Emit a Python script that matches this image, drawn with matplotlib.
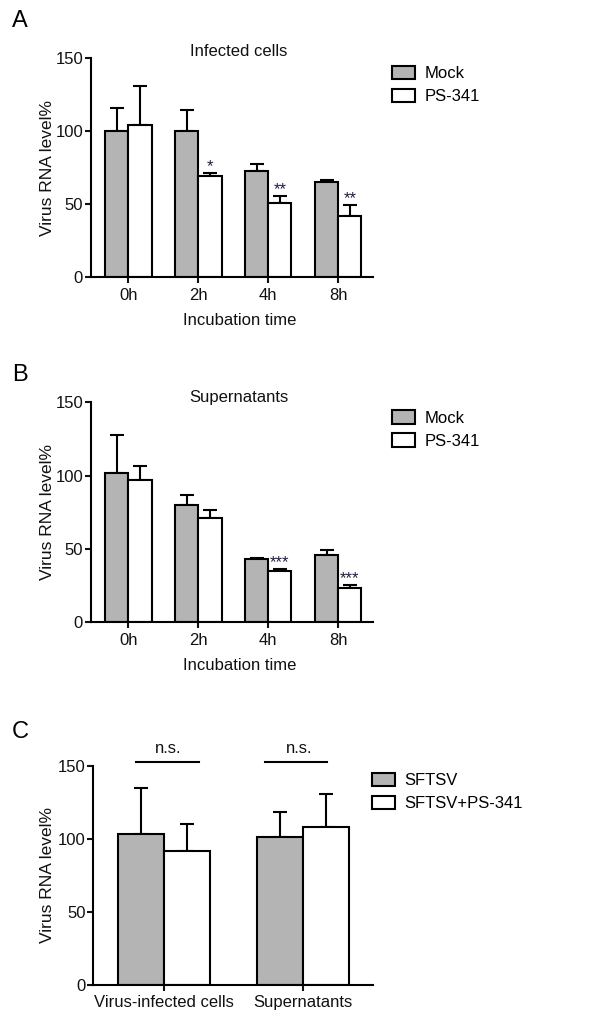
import numpy as np
import matplotlib
matplotlib.use("Agg")
import matplotlib.pyplot as plt

plt.rcParams['font.family'] = ['Liberation Sans', 'DejaVu Sans']

# panel A - infected cells
times = ["0h", "2h", "4h", "8h"]
a_mock = [100.5, 100.5, 73, 65.2]
a_mock_err = [15.3, 14, 4.6, 1.2]
a_ps = [104, 69.2, 51, 42]
a_ps_err = [27, 2.3, 4.7, 7.8]
a_stars = ["", "*", "**", "**"]

# panel B - supernatants
b_mock = [102, 80, 43, 46.1]
b_mock_err = [25.7, 6.8, 0.9, 2.9]
b_ps = [97.3, 71.4, 35, 23.2]
b_ps_err = [9.3, 5.4, 1.4, 2.3]
b_stars = ["", "", "***", "***"]

# panel C
c_groups = ["Virus-infected cells", "Supernatants"]
c_sftsv = [103.2, 101.1]
c_sftsv_err = [31.5, 17.6]
c_ps = [91.8, 108.2]
c_ps_err = [18.2, 22.4]

GRAY = "#b4b4b4"
LW = 1.5
W = 0.33
FS = 12

fig = plt.figure(figsize=(6.15, 10.24), dpi=100)


def style_axis(ax):
    for s in ["top", "right"]:
        ax.spines[s].set_visible(False)
    for s in ["left", "bottom"]:
        ax.spines[s].set_linewidth(LW)
    ax.tick_params(width=LW, length=4, labelsize=FS, colors="#111111")
    ax.tick_params(axis="y", pad=1.5)
    ax.tick_params(axis="x", pad=3.5)
    ax.set_ylim(0, 150)
    ax.set_yticks([0, 50, 100, 150])


def draw_pair(ax, x, v1, e1, l1, v2, e2, l2):
    z = [0] * len(v1)
    b1 = ax.bar(x - W / 2, v1, W, color=GRAY, edgecolor="black", linewidth=LW, label=l1, zorder=2)
    b2 = ax.bar(x + W / 2, v2, W, color="white", edgecolor="black", linewidth=LW, label=l2, zorder=2)
    ax.errorbar(x - W / 2, v1, yerr=[z, e1], fmt="none", ecolor="black", elinewidth=LW,
                capsize=4.7, capthick=LW, zorder=1)
    ax.errorbar(x + W / 2, v2, yerr=[z, e2], fmt="none", ecolor="black", elinewidth=LW,
                capsize=4.7, capthick=LW, zorder=1)
    return b1, b2


def time_panel(rect, mock, mock_err, ps, ps_err, stars, title, letter, letter_y, title_y, leg_y):
    ax = fig.add_axes(rect)
    x = np.arange(len(times))
    draw_pair(ax, x, mock, mock_err, "Mock", ps, ps_err, "PS-341")
    for i, s in enumerate(stars):
        if s:
            ax.text(x[i] + W / 2, ps[i] + ps_err[i] + 1.0, s, ha="center", va="baseline",
                    fontsize=12, color="#1c1c44")
    ax.set_xlim(-0.54, 3.5)
    ax.set_xticks(x)
    ax.set_xticklabels(times)
    style_axis(ax)
    ax.set_ylabel("Virus RNA level%", fontsize=12.5, color="#111111", va="center")
    ax.yaxis.set_label_coords(-0.152, 0.5)
    ax.set_xlabel("Incubation time", fontsize=FS, color="#111111", va="center")
    ax.xaxis.set_label_coords(0.528, -0.197)
    fig.text(239 / 615, title_y, title, ha="center", va="center", fontsize=FS, color="#111111")
    fig.text(12 / 615, letter_y, letter, ha="left", va="center", fontsize=17)
    ax.legend(loc="center left", bbox_to_anchor=(392 / 615, leg_y), bbox_transform=fig.transFigure,
              frameon=False, fontsize=FS, handlelength=1.4, handleheight=0.85,
              handletextpad=0.55, labelspacing=0.45, borderpad=0, borderaxespad=0)
    return ax


time_panel([90.7 / 615, 0.7292, 0.4595, 0.2139], a_mock, a_mock_err, a_ps, a_ps_err, a_stars,
           "Infected cells", "A", 1 - 21 / 1024, 1 - 51.7 / 1024, 1 - 85 / 1024)
time_panel([90.7 / 615, 0.3923, 0.4595, 0.2148], b_mock, b_mock_err, b_ps, b_ps_err, b_stars,
           "Supernatants", "B", 1 - 375 / 1024, 1 - 397.3 / 1024, 1 - 429.5 / 1024)

# panel C
axc = fig.add_axes([93.3 / 615, 0.0381, 0.4553, 0.2139])
xc = np.arange(len(c_groups))
draw_pair(axc, xc, c_sftsv, c_sftsv_err, "SFTSV", c_ps, c_ps_err, "SFTSV+PS-341")
axc.set_xlim(-0.505, 1.505)
axc.set_xticks(xc)
axc.set_xticklabels(c_groups)
style_axis(axc)
axc.set_ylabel("Virus RNA level%", fontsize=12.5, color="#111111", va="center")
axc.yaxis.set_label_coords(-0.162, 0.5)
ns_lines = [(-0.197, 0.254), (-0.273, 0.175)]
ns_text_x = [0.03, -0.03]
for i in range(len(c_groups)):
    axc.plot([xc[i] + ns_lines[i][0], xc[i] + ns_lines[i][1]], [153, 153], color="black",
             lw=LW, clip_on=False)
    axc.text(xc[i] + ns_text_x[i], 157, "n.s.", ha="center", va="bottom", fontsize=FS,
             color="#111111", clip_on=False)
fig.text(12 / 615, 1 - 732 / 1024, "C", ha="left", va="center", fontsize=17)
axc.legend(loc="center left", bbox_to_anchor=(372 / 615, 1 - 792 / 1024), bbox_transform=fig.transFigure,
           frameon=False, fontsize=FS, handlelength=1.4, handleheight=0.85,
           handletextpad=0.55, labelspacing=0.45, borderpad=0, borderaxespad=0)

fig.savefig("out.png", dpi=100)
